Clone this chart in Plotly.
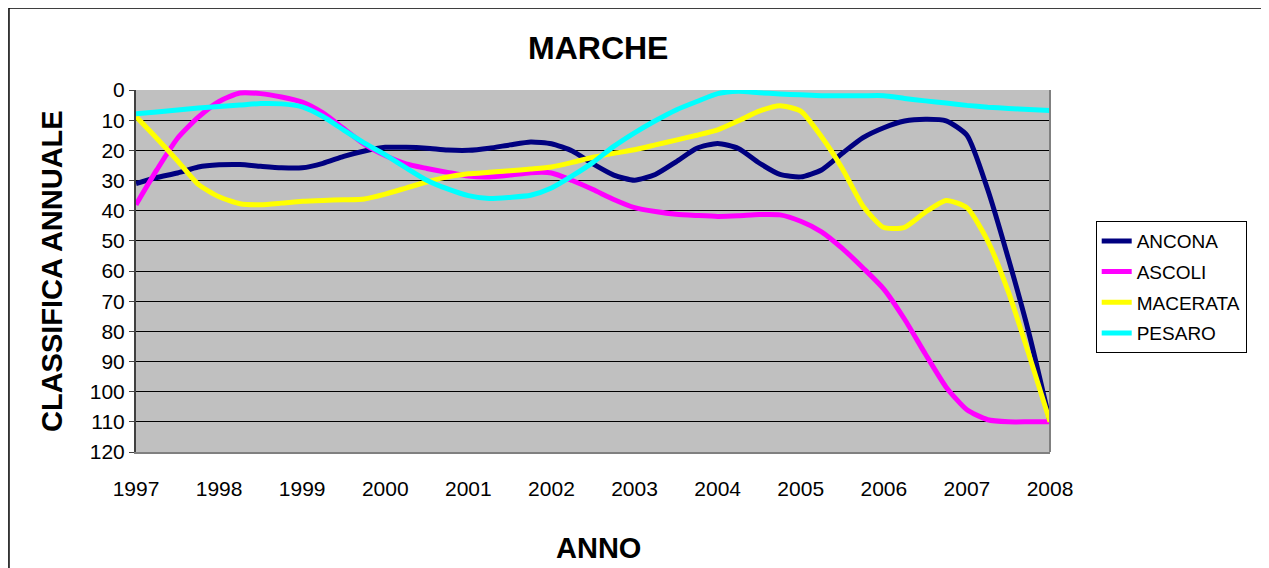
import plotly.graph_objects as go

# sampling positions (fractional years) at which the curves were read
anno = [1997.0, 1997.25, 1997.5, 1997.75, 1998.0, 1998.25, 1998.5, 1998.75,
        1999.0, 1999.25, 1999.5, 1999.75, 2000.0, 2000.25, 2000.5, 2000.75,
        2001.0, 2001.25, 2001.5, 2001.75, 2002.0, 2002.25, 2002.5, 2002.75,
        2003.0, 2003.25, 2003.5, 2003.75, 2004.0, 2004.25, 2004.5, 2004.75,
        2005.0, 2005.25, 2005.5, 2005.75, 2006.0, 2006.25, 2006.5, 2006.75,
        2007.0, 2007.25, 2007.5, 2007.75, 2008.0]

ancona = [31, 29, 27.5, 25.5, 24.8, 24.7, 25.3, 25.8,
          25.8, 24.3, 22, 20.2, 19, 19, 19.3, 19.9,
          20, 19.3, 18.2, 17.2, 17.8, 20.2, 24.5, 28.2,
          29.9, 28, 23.8, 19.3, 17.7, 19.4, 24.2, 28,
          28.8, 26.5, 21, 15.8, 12.5, 10.3, 9.7, 10.2,
          15, 33, 56, 81, 110]

ascoli = [38, 26.5, 16, 9, 3.8, 1, 1.2, 2.3,
          4, 7.6, 12.8, 18, 21.7, 24.5, 26, 27.3,
          28.5, 28.8, 28.2, 27.4, 27.5, 30, 33, 36.3,
          39, 40.3, 41.2, 41.6, 41.9, 41.7, 41.3, 41.4,
          43.5, 47, 52.5, 59, 66, 76, 87.5, 98.5,
          106, 109.3, 110, 110, 110]

macerata = [8.8, 16, 23.5, 31.3, 35.4, 37.7, 38, 37.5,
            36.9, 36.6, 36.4, 36.1, 34.5, 32.5, 30.5, 28.8,
            27.8, 27.3, 26.8, 26.2, 25.5, 24, 22.3, 21,
            19.8, 18.2, 16.6, 15, 13.2, 10.2, 7, 5.2,
            7, 15.5, 26, 38.5, 45.6, 45.5, 40.5, 36.6,
            39, 50, 67, 88, 110]

pesaro = [7.9, 7.3, 6.6, 6, 5.5, 5, 4.5, 4.6,
          5.6, 8.8, 13.3, 17.6, 21.5, 25.8, 29.9, 32.8,
          35, 36, 35.6, 34.9, 32.5, 28.5, 24, 18.7,
          14.2, 10.2, 6.6, 3.8, 1.2, 0.4, 0.9, 1.3,
          1.6, 1.9, 1.9, 1.9, 1.9, 2.8, 3.6, 4.3,
          5.1, 5.7, 6.1, 6.5, 6.8]

series_names = ["ANCONA", "ASCOLI", "MACERATA", "PESARO"]
series_values = [ancona, ascoli, macerata, pesaro]
series_colors = ["#000080", "#FF00FF", "#FFFF00", "#00FFFF"]

year_ticks = [1997, 1998, 1999, 2000, 2001, 2002, 2003, 2004, 2005, 2006, 2007, 2008]
y_ticks = [0, 10, 20, 30, 40, 50, 60, 70, 80, 90, 100, 110, 120]

FONT = "Liberation Sans, Arial, sans-serif"

fig = go.Figure()
for name, vals, col in zip(series_names, series_values, series_colors):
    fig.add_trace(go.Scatter(
        x=anno, y=vals, name=name, mode="lines",
        line=dict(color=col, width=5, shape="spline", smoothing=0.6),
        legendgroup=name,
    ))

fig.update_layout(
    width=1269, height=568,
    margin=dict(l=128, r=227, t=82, b=124),
    paper_bgcolor="white",
    plot_bgcolor="#C0C0C0",
    font=dict(family=FONT, color="black"),
    showlegend=True,
    legend=dict(
        x=1.05, y=0.638, xanchor="left", yanchor="top",
        bgcolor="white", bordercolor="black", borderwidth=1,
        font=dict(family=FONT, size=19, color="black"),
        tracegroupgap=3,
    ),
    xaxis=dict(
        range=[1997, 2008], tickvals=year_ticks, ticktext=[str(y) for y in year_ticks],
        showgrid=False, zeroline=False, ticks="", showline=True,
        linecolor="#808080", linewidth=2,
        tickfont=dict(family=FONT, size=21, color="black"),
        ticklabelstandoff=17,
    ),
    xaxis2=dict(
        range=[1997, 2008], tickvals=year_ticks, overlaying="x", side="top",
        anchor="y", showgrid=False, zeroline=False, ticks="inside", ticklen=7,
        tickcolor="#404040", tickwidth=1, showticklabels=False,
        showline=True, linecolor="#404040", linewidth=1,
    ),
    yaxis=dict(
        range=[120, 0], tickvals=y_ticks, showgrid=True, gridcolor="black",
        gridwidth=1, zeroline=False, ticks="outside", ticklen=5,
        tickcolor="#404040", showline=True, linecolor="#404040", linewidth=2,
        tickfont=dict(family=FONT, size=21, color="black"),
    ),
    shapes=[
        dict(type="line", xref="paper", yref="paper", x0=1, x1=1, y0=0, y1=1,
             line=dict(color="#808080", width=2)),
        dict(type="rect", xref="paper", yref="paper", x0=-0.139, x1=2.0,
             y0=-1.0, y1=1.2265, line=dict(color="black", width=1.5),
             fillcolor="rgba(0,0,0,0)", layer="below"),
    ],
    annotations=[
        dict(text="<b>MARCHE</b>", xref="paper", yref="paper", x=(598 - 136) / 914, y=(452 - 48) / 362,
             xanchor="center", yanchor="middle", showarrow=False,
             font=dict(family=FONT, size=32, color="black")),
        dict(text="<b>ANNO</b>", xref="paper", yref="paper", x=(598 - 136) / 914, y=(452 - 548) / 362,
             xanchor="center", yanchor="middle", showarrow=False,
             font=dict(family=FONT, size=29, color="black")),
        dict(text="<b>CLASSIFICA ANNUALE</b>", xref="paper", yref="paper", x=(52 - 136) / 914, y=(452 - 271) / 362,
             xanchor="center", yanchor="middle", showarrow=False, textangle=-90,
             font=dict(family=FONT, size=29, color="black")),
    ],
)

fig.write_html("out.html")
